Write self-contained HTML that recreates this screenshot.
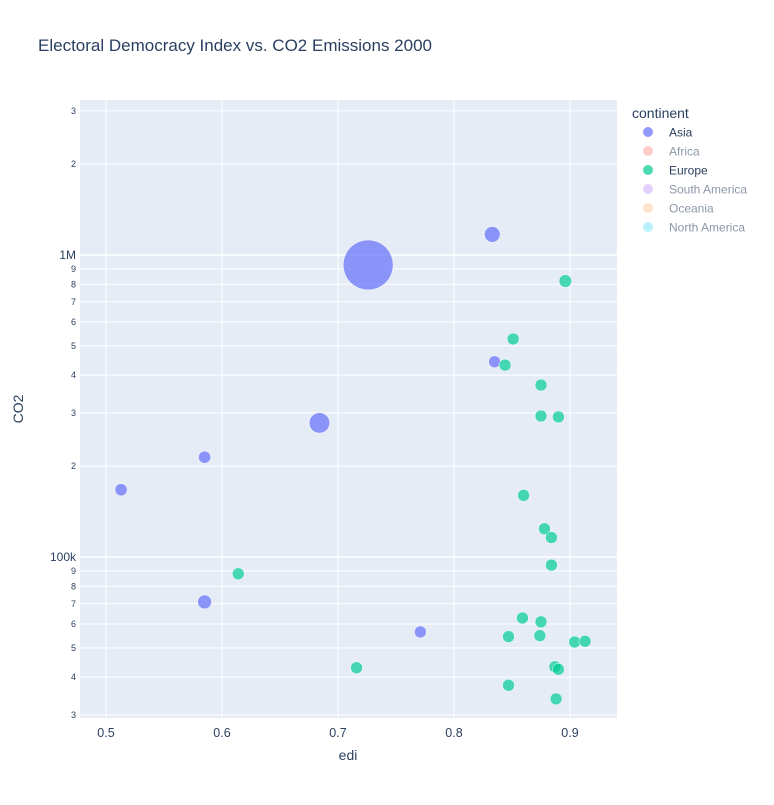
<!DOCTYPE html>
<html><head><meta charset="utf-8"><style>
body{margin:0;background:#fff;font-family:"Liberation Sans",sans-serif}
svg text{font-family:"Liberation Sans",sans-serif}
</style></head><body>
<svg id="chart" width="774" height="800">
<rect width="774" height="800" fill="#fff"/>
<text x="38" y="51" font-size="17" fill="#2a3f5f">Electoral Democracy Index vs. CO2 Emissions 2000</text>
<rect x="80" y="100" width="537" height="618" fill="#e5ecf6"/>
<g id="grid"></g><g id="marks"></g><g id="axes"></g>
<text x="348" y="760" font-size="14" fill="#2a3f5f" text-anchor="middle">edi</text>
<text x="23" y="409" font-size="14" fill="#2a3f5f" text-anchor="middle" transform="rotate(-90 23 409)">CO2</text>
<g id="legend">
<text x="632" y="118" font-size="14" fill="#2a3f5f">continent</text>
</g>
</svg>
<script>
const asiaEdi=[0.833,0.726,0.835,0.684,0.585,0.513,0.585,0.771];
const asiaCo2=[1170000,927000,443000,278000,214000,167000,71000,56500];
const asiaPop=[127,1260,47,211,76,76,98,60];
const euEdi=[0.896,0.851,0.844,0.875,0.875,0.890,0.860,0.878,0.884,0.884,0.614,0.859,0.875,0.847,0.874,0.904,0.913,0.887,0.890,0.716,0.847,0.888];
const euCo2=[820000,527000,432000,371000,293000,291000,160000,124000,116000,94000,88000,62800,61000,54500,54900,52300,52600,43300,42500,43000,37600,33900];
const euPop=[82,59,58,60,57,57,39,40,40,38,45,38,38,38,38,38,38,38,38,38,38,38];
const xTicks=[0.5,0.6,0.7,0.8,0.9];
const xTickLabels=["0.5","0.6","0.7","0.8","0.9"];
const legendNames=["Asia","Africa","Europe","South America","Oceania","North America"];
const legendColors=["#636efa","#EF553B","#00cc96","#ab63fa","#FFA15A","#19d3f3"];
const legendActive=[true,false,true,false,false,false];

const NS="http://www.w3.org/2000/svg";
const X=v=>106+(v-0.5)*1160;
const Y=v=>255-(Math.log10(v)-6)*302;
const R=p=>Math.max(6,25*Math.sqrt(p/1260));
function mk(tag,attrs,parent){const e=document.createElementNS(NS,tag);for(const k in attrs)e.setAttribute(k,attrs[k]);parent.appendChild(e);return e;}
const grid=document.getElementById('grid'),axes=document.getElementById('axes'),marks=document.getElementById('marks'),leg=document.getElementById('legend');
xTicks.forEach((t,i)=>{
  const l=mk('line',{x1:X(t),x2:X(t),y1:100,y2:718,stroke:'#fff','stroke-width':1},grid);
  
  
  const tx=mk('text',{x:X(t),y:737,'font-size':12.5,fill:'#2a3f5f','text-anchor':'middle'},axes);
  tx.textContent=xTickLabels[i];
  
  
});
for(let d=4;d<=6;d++){for(let m=1;m<=9;m++){
  const v=m*Math.pow(10,d);if(v<30000||v>3000000)continue;
  const y=Y(v);
  const l=mk('line',{x1:80,x2:617,y1:y,y2:y,stroke:'#fff','stroke-width':m===1?1.5:1},grid);
  
  
  const lab=m===1?(d===5?'100k':'1M'):String(m);
  const tx=mk('text',{x:76,y:y+(m===1?4:3),'font-size':m===1?12:9,fill:'#2a3f5f','text-anchor':'end'},axes);
  tx.textContent=lab;
  
  
}}
function series(ed,co,pop,col,name){ed.forEach((e,i)=>{
  const c=mk('circle',{cx:X(e),cy:Y(co[i]),r:R(pop[i]),fill:col,'fill-opacity':0.7,stroke:'#fff','stroke-width':0.5},marks);
  
  
});}
series(asiaEdi,asiaCo2,asiaPop,'#636efa','point-asia');
series(euEdi,euCo2,euPop,'#00cc96','point-europe');
legendNames.forEach((n,i)=>{
  const y=132+i*19;
  const c=mk('circle',{cx:648,cy:y,r:5,fill:legendColors[i],'fill-opacity':legendActive[i]?0.7:0.3},leg);
  
  
  const t=mk('text',{x:669,y:y+4.5,'font-size':12,fill:'#2a3f5f','fill-opacity':legendActive[i]?1:0.55},leg);
  t.textContent=n;
  
  
});
</script>
</body></html>
